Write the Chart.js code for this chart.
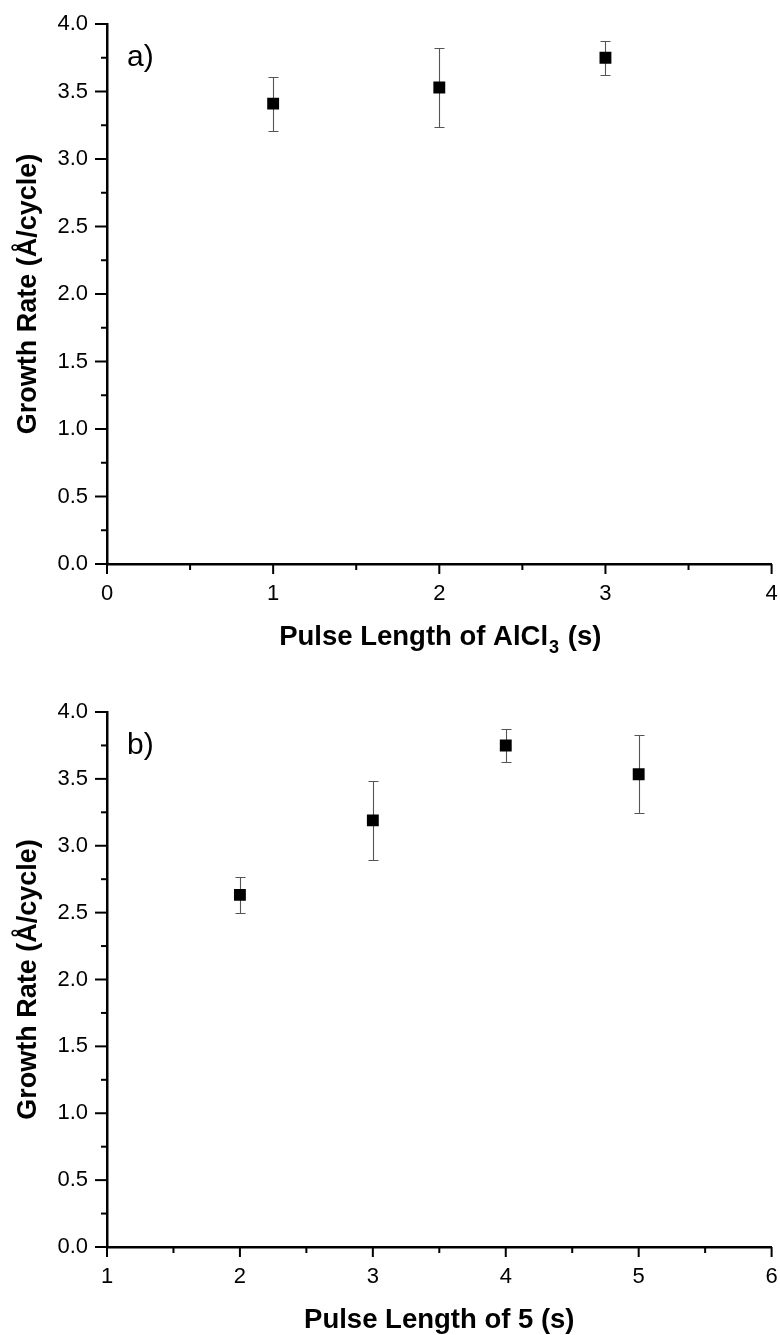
<!DOCTYPE html>
<html>
<head>
<meta charset="utf-8">
<script src="https://cdn.jsdelivr.net/npm/chart.js@4.4.1/dist/chart.umd.min.js"></script>
<style>
  html, body { margin: 0; padding: 0; background: #fff; overflow: hidden; }
  #wrap { position: relative; width: 780px; height: 1335px; overflow: hidden; }
  .panel { position: absolute; left: 0; width: 780px; height: 680px; }
</style>
</head>
<body>
<div id="wrap">
  <div class="panel" style="top:0px"><canvas id="chartA" width="780" height="680"></canvas></div>
  <div class="panel" style="top:688px"><canvas id="chartB" width="780" height="680"></canvas></div>
</div>
<script>
// Panel a): growth rate vs AlCl3 pulse length
const pulseAlCl3 = [1, 2, 3];
const rateA = [3.41, 3.53, 3.75];
const errA = [0.20, 0.29, 0.125];

// Panel b): growth rate vs pulse length of precursor 5
const pulse5 = [2, 3, 4, 5];
const rateB = [2.633, 3.19, 3.75, 3.535];
const errB = [0.134, 0.295, 0.125, 0.29];

// Tick values
const yTickValues = [0, 0.5, 1, 1.5, 2, 2.5, 3, 3.5, 4];
const xTickValuesA = [0, 1, 2, 3, 4];
const xTickValuesB = [1, 2, 3, 4, 5, 6];

const FONT = "'Liberation Sans', Arial, sans-serif";

// Vertical error bars with caps, drawn beneath the markers
const errorBarPlugin = {
  id: 'errorBars',
  beforeDatasetsDraw(chart) {
    const { ctx, scales: { x, y } } = chart;
    const ds = chart.data.datasets[0];
    const errs = chart.options.plugins.errorBars.errors;
    ctx.save();
    ctx.strokeStyle = '#555';
    ctx.lineWidth = 1.1;
    ds.data.forEach((p, i) => {
      const px = Math.round(x.getPixelForValue(p.x)) + 0.5;
      const yt = Math.round(y.getPixelForValue(p.y + errs[i])) + 0.5;
      const yb = Math.round(y.getPixelForValue(p.y - errs[i])) + 0.5;
      const cap = 5;
      ctx.beginPath();
      ctx.moveTo(px, yt); ctx.lineTo(px, yb);
      ctx.moveTo(px - cap, yt); ctx.lineTo(px + cap, yt);
      ctx.moveTo(px - cap, yb); ctx.lineTo(px + cap, yb);
      ctx.stroke();
    });
    ctx.restore();
  }
};

// Outward major and minor tick marks on both axes
const tickMarkPlugin = {
  id: 'tickMarks',
  afterDraw(chart) {
    const { ctx, scales: { x, y } } = chart;
    const o = chart.options.plugins.tickMarks;
    ctx.save();
    ctx.strokeStyle = '#000';
    const ax = x.getPixelForValue(x.min);
    const ay = y.getPixelForValue(y.min);
    const yt = o.yTicks;
    for (let i = 0; i < yt.length; i++) {
      const py = y.getPixelForValue(yt[i]);
      ctx.lineWidth = 2;
      ctx.beginPath(); ctx.moveTo(ax - 12, py); ctx.lineTo(ax, py); ctx.stroke();
      if (i < yt.length - 1) {
        const pm = y.getPixelForValue((yt[i] + yt[i + 1]) / 2);
        ctx.beginPath(); ctx.moveTo(ax - 6, pm); ctx.lineTo(ax, pm); ctx.stroke();
      }
    }
    const xt = o.xTicks;
    for (let i = 0; i < xt.length; i++) {
      const px = x.getPixelForValue(xt[i]);
      ctx.lineWidth = 2;
      ctx.beginPath(); ctx.moveTo(px, ay); ctx.lineTo(px, ay + 10); ctx.stroke();
      if (i < xt.length - 1) {
        const pm = x.getPixelForValue((xt[i] + xt[i + 1]) / 2);
        ctx.beginPath(); ctx.moveTo(pm, ay); ctx.lineTo(pm, ay + 6); ctx.stroke();
      }
    }
    ctx.restore();
  }
};

// Panel letter and x-axis title (with optional subscript)
const labelPlugin = {
  id: 'panelText',
  afterDraw(chart) {
    const { ctx, chartArea } = chart;
    const o = chart.options.plugins.panelText;
    ctx.save();
    ctx.fillStyle = '#000';
    ctx.textAlign = 'left';
    ctx.textBaseline = 'alphabetic';
    ctx.font = `30px ${FONT}`;
    ctx.fillText(o.letter, chartArea.left + 20, chartArea.top + 42);

    const main = `bold 27.5px ${FONT}`;
    const small = `bold 18px ${FONT}`;
    ctx.font = main; const w1 = ctx.measureText(o.title).width;
    ctx.font = small; const w2 = o.sub ? ctx.measureText(o.sub).width : 0;
    ctx.font = main; const w3 = o.tail ? ctx.measureText(o.tail).width : 0;
    const cx = (chartArea.left + chartArea.right) / 2;
    let sx = cx - (w1 + w2 + w3) / 2;
    const base = chartArea.bottom + 81;
    ctx.font = main; ctx.fillText(o.title, sx, base); sx += w1;
    if (o.sub) { ctx.font = small; ctx.fillText(o.sub, sx + 1, base + 8); sx += w2 + 2; }
    if (o.tail) { ctx.font = main; ctx.fillText(o.tail, sx, base); }
    ctx.restore();
  }
};

function makeChart(id, xs, ys, errs, xTicks, xAxisHeight, letter, title, sub, tail) {
  const pts = xs.map((v, i) => ({ x: v, y: ys[i] }));
  return new Chart(document.getElementById(id), {
    type: 'scatter',
    data: {
      datasets: [{
        data: pts,
        pointStyle: 'rect',
        pointRadius: 8.4,
        pointHoverRadius: 8.4,
        backgroundColor: '#000',
        borderColor: '#000',
        borderWidth: 0
      }]
    },
    options: {
      responsive: false,
      animation: false,
      events: [],
      layout: { padding: { top: 24, right: 7, left: 0, bottom: 0 } },
      plugins: {
        legend: { display: false },
        tooltip: { enabled: false },
        errorBars: { errors: errs },
        tickMarks: { xTicks: xTicks, yTicks: yTickValues },
        panelText: { letter, title, sub, tail }
      },
      scales: {
        x: {
          type: 'linear',
          min: xTicks[0],
          max: xTicks[xTicks.length - 1],
          afterBuildTicks: s => { s.ticks = xTicks.map(v => ({ value: v })); },
          afterFit: s => { s.height = xAxisHeight; s.paddingLeft = 0; s.paddingRight = 0; },
          grid: { display: true, drawOnChartArea: false, drawTicks: true, tickLength: 10, tickColor: 'rgba(0,0,0,0)' },
          border: { display: true, color: '#000', width: 2.5 },
          ticks: {
            color: '#000',
            font: { family: FONT, size: 22 },
            padding: 7,
            maxRotation: 0,
            callback: v => String(v)
          }
        },
        y: {
          type: 'linear',
          min: 0,
          max: 4,
          afterBuildTicks: s => { s.ticks = yTickValues.map(v => ({ value: v })); },
          afterFit: s => { s.width = 107; s.paddingTop = 0; s.paddingBottom = 0; },
          grid: { display: true, drawOnChartArea: false, drawTicks: true, tickLength: 12, tickColor: 'rgba(0,0,0,0)' },
          border: { display: true, color: '#000', width: 2.5 },
          title: {
            display: true,
            text: 'Growth Rate (Å/cycle)',
            color: '#000',
            font: { family: FONT, size: 27, weight: 'bold' },
            padding: { top: 12, bottom: 0 }
          },
          ticks: {
            color: '#000',
            font: { family: FONT, size: 22 },
            padding: 7,
            callback: v => Number(v).toFixed(1)
          }
        }
      }
    },
    plugins: [errorBarPlugin, tickMarkPlugin, labelPlugin]
  });
}

makeChart('chartA', pulseAlCl3, rateA, errA, xTickValuesA, 116, 'a)', 'Pulse Length of AlCl', '3', ' (s)');
makeChart('chartB', pulse5, rateB, errB, xTickValuesB, 121, 'b)', 'Pulse Length of 5 (s)', '', '');
</script>
</body>
</html>
